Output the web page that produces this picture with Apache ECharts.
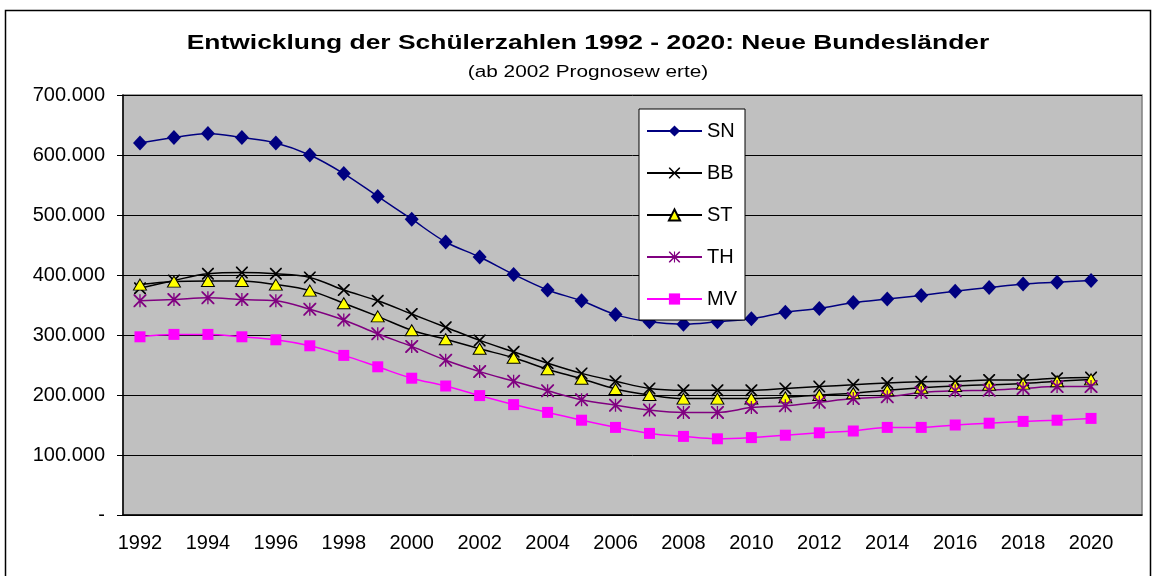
<!DOCTYPE html>
<html>
<head>
<meta charset="utf-8">
<script src="https://cdn.jsdelivr.net/npm/echarts/dist/echarts.min.js"></script>
</head>
<body style="margin:0;background:#fff">
<div id="main" style="width:1157px;height:576px;"></div>

<script type="text/javascript">
// Jahre (2021 ist ein leerer Platz am rechten Rand der Grafik)
var years = ['1992','1993','1994','1995','1996','1997','1998','1999','2000','2001',
             '2002','2003','2004','2005','2006','2007','2008','2009','2010','2011',
             '2012','2013','2014','2015','2016','2017','2018','2019','2020','2021'];

var sn = [620000,629000,636000,629000,620000,600000,569000,531000,493000,455000,
          430000,401000,375000,357000,334000,322000,318000,322000,327000,338000,
          344000,354000,360000,366000,373000,379000,385000,388000,391000];
var bb = [378000,391000,402000,404000,402000,396000,375000,357000,335000,313000,
          291000,272000,253000,236000,223000,211000,208000,208000,208000,211000,
          214000,217000,220000,222000,223000,225000,225000,228000,229000];
var st = [384000,389000,390000,390000,384000,374000,353000,331000,308000,293000,
          277000,262000,243000,227000,210000,200000,194000,194000,194000,196000,
          200000,203000,208000,212000,215000,217000,219000,223000,226000];
var th = [357000,359000,362000,359000,357000,343000,325000,302000,281000,258000,
          239000,223000,207000,192000,183000,175000,171000,171000,179000,182000,
          188000,194000,197000,204000,207000,208000,211000,214000,214000];
var mv = [297000,301000,301000,297000,292000,282000,266000,247000,228000,215000,
          199000,184000,171000,158000,146000,136000,131000,127000,129000,133000,
          137000,140000,146000,146000,150000,153000,156000,158000,161000];

var kreuz = 'path://M0,0 L2,0 L10,8 L18,0 L20,0 L20,2 L12,10 L20,18 L20,20 L18,20 L10,12 L2,20 L0,20 L0,18 L8,10 L0,2 Z';
var stern = 'path://M0,0 L2,0 L10,8 L18,0 L20,0 L20,2 L12,10 L20,18 L20,20 L18,20 L10,12 L2,20 L0,20 L0,18 L8,10 L0,2 Z M9,0 L11,0 L11,20 L9,20 Z';

var font = 'Liberation Sans';

function reihe(name, data, farbe, symbol, size, itemStyle) {
    return {
        name: name,
        type: 'line',
        data: data,
        smooth: 0.35,
        symbol: symbol,
        symbolSize: size,
        showAllSymbol: true,
        lineStyle: { color: farbe, width: 1.5 },
        itemStyle: itemStyle,
        emphasis: { disabled: true },
        animation: false
    };
}

var option = {
    backgroundColor: '#fff',
    textStyle: { fontFamily: font },
    graphic: [
        { type: 'rect', shape: { x: 5.5, y: 10.5, width: 1145, height: 600 },
          style: { fill: 'none', stroke: '#000', lineWidth: 1.5 }, silent: true },
        { type: 'text', x: 588, y: 43, scaleX: 1.32,
          style: { text: 'Entwicklung der Schülerzahlen 1992 - 2020: Neue Bundesländer',
                   font: 'bold 20px "Liberation Sans"', fill: '#000',
                   textAlign: 'center', textVerticalAlign: 'middle' } },
        { type: 'text', x: 588, y: 73, scaleX: 1.3,
          style: { text: '(ab 2002 Prognosew erte)',
                   font: '16px "Liberation Sans"', fill: '#000',
                   textAlign: 'center', textVerticalAlign: 'middle' } }
    ],
    legend: {
        orient: 'vertical',
        left: 639,
        top: 109,
        padding: [12, 8, 11, 7],
        backgroundColor: '#fff',
        borderColor: '#000',
        borderWidth: 1,
        itemWidth: 55,
        itemHeight: 14,
        itemGap: 22,
        textStyle: { fontSize: 20, color: '#000', fontFamily: font },
        data: ['SN', 'BB', 'ST', 'TH', 'MV']
    },
    grid: {
        left: 123,
        right: 15,
        top: 95,
        bottom: 61,
        show: true,
        backgroundColor: '#C0C0C0',
        borderColor: '#808080',
        borderWidth: 1.5
    },
    xAxis: {
        type: 'category',
        data: years,
        boundaryGap: true,
        axisLine: { lineStyle: { color: '#000', width: 1.5 } },
        axisTick: { interval: 0, length: 5, lineStyle: { color: '#000' } },
        axisLabel: { interval: 1, fontSize: 20, color: '#000', margin: 18, fontFamily: font },
        splitLine: { show: false }
    },
    yAxis: {
        type: 'value',
        min: 0,
        max: 700000,
        interval: 100000,
        axisLine: { show: true, lineStyle: { color: '#000', width: 1.5 } },
        axisTick: { show: true, length: 6, lineStyle: { color: '#000' } },
        axisLabel: {
            fontSize: 20, color: '#000', margin: 18, fontFamily: font,
            formatter: function (v) { return v === 0 ? '-' : (v / 1000) + '.000'; }
        },
        splitLine: { lineStyle: { color: '#000', width: 1 } }
    },
    series: [
        reihe('SN', sn, '#000080', 'diamond', [14, 15], { color: '#000080' }),
        reihe('BB', bb, '#000000', kreuz, 12, { color: '#000000' }),
        reihe('ST', st, '#000000', 'triangle', [13, 11], { color: '#FFFF00', borderColor: '#000', borderWidth: 1 }),
        reihe('TH', th, '#800080', stern, 13, { color: '#800080' }),
        reihe('MV', mv, '#FF00FF', 'rect', 11, { color: '#FF00FF' })
    ]
};

var myChart = echarts.init(document.getElementById('main'));
myChart.setOption(option);
</script>
</body>
</html>
